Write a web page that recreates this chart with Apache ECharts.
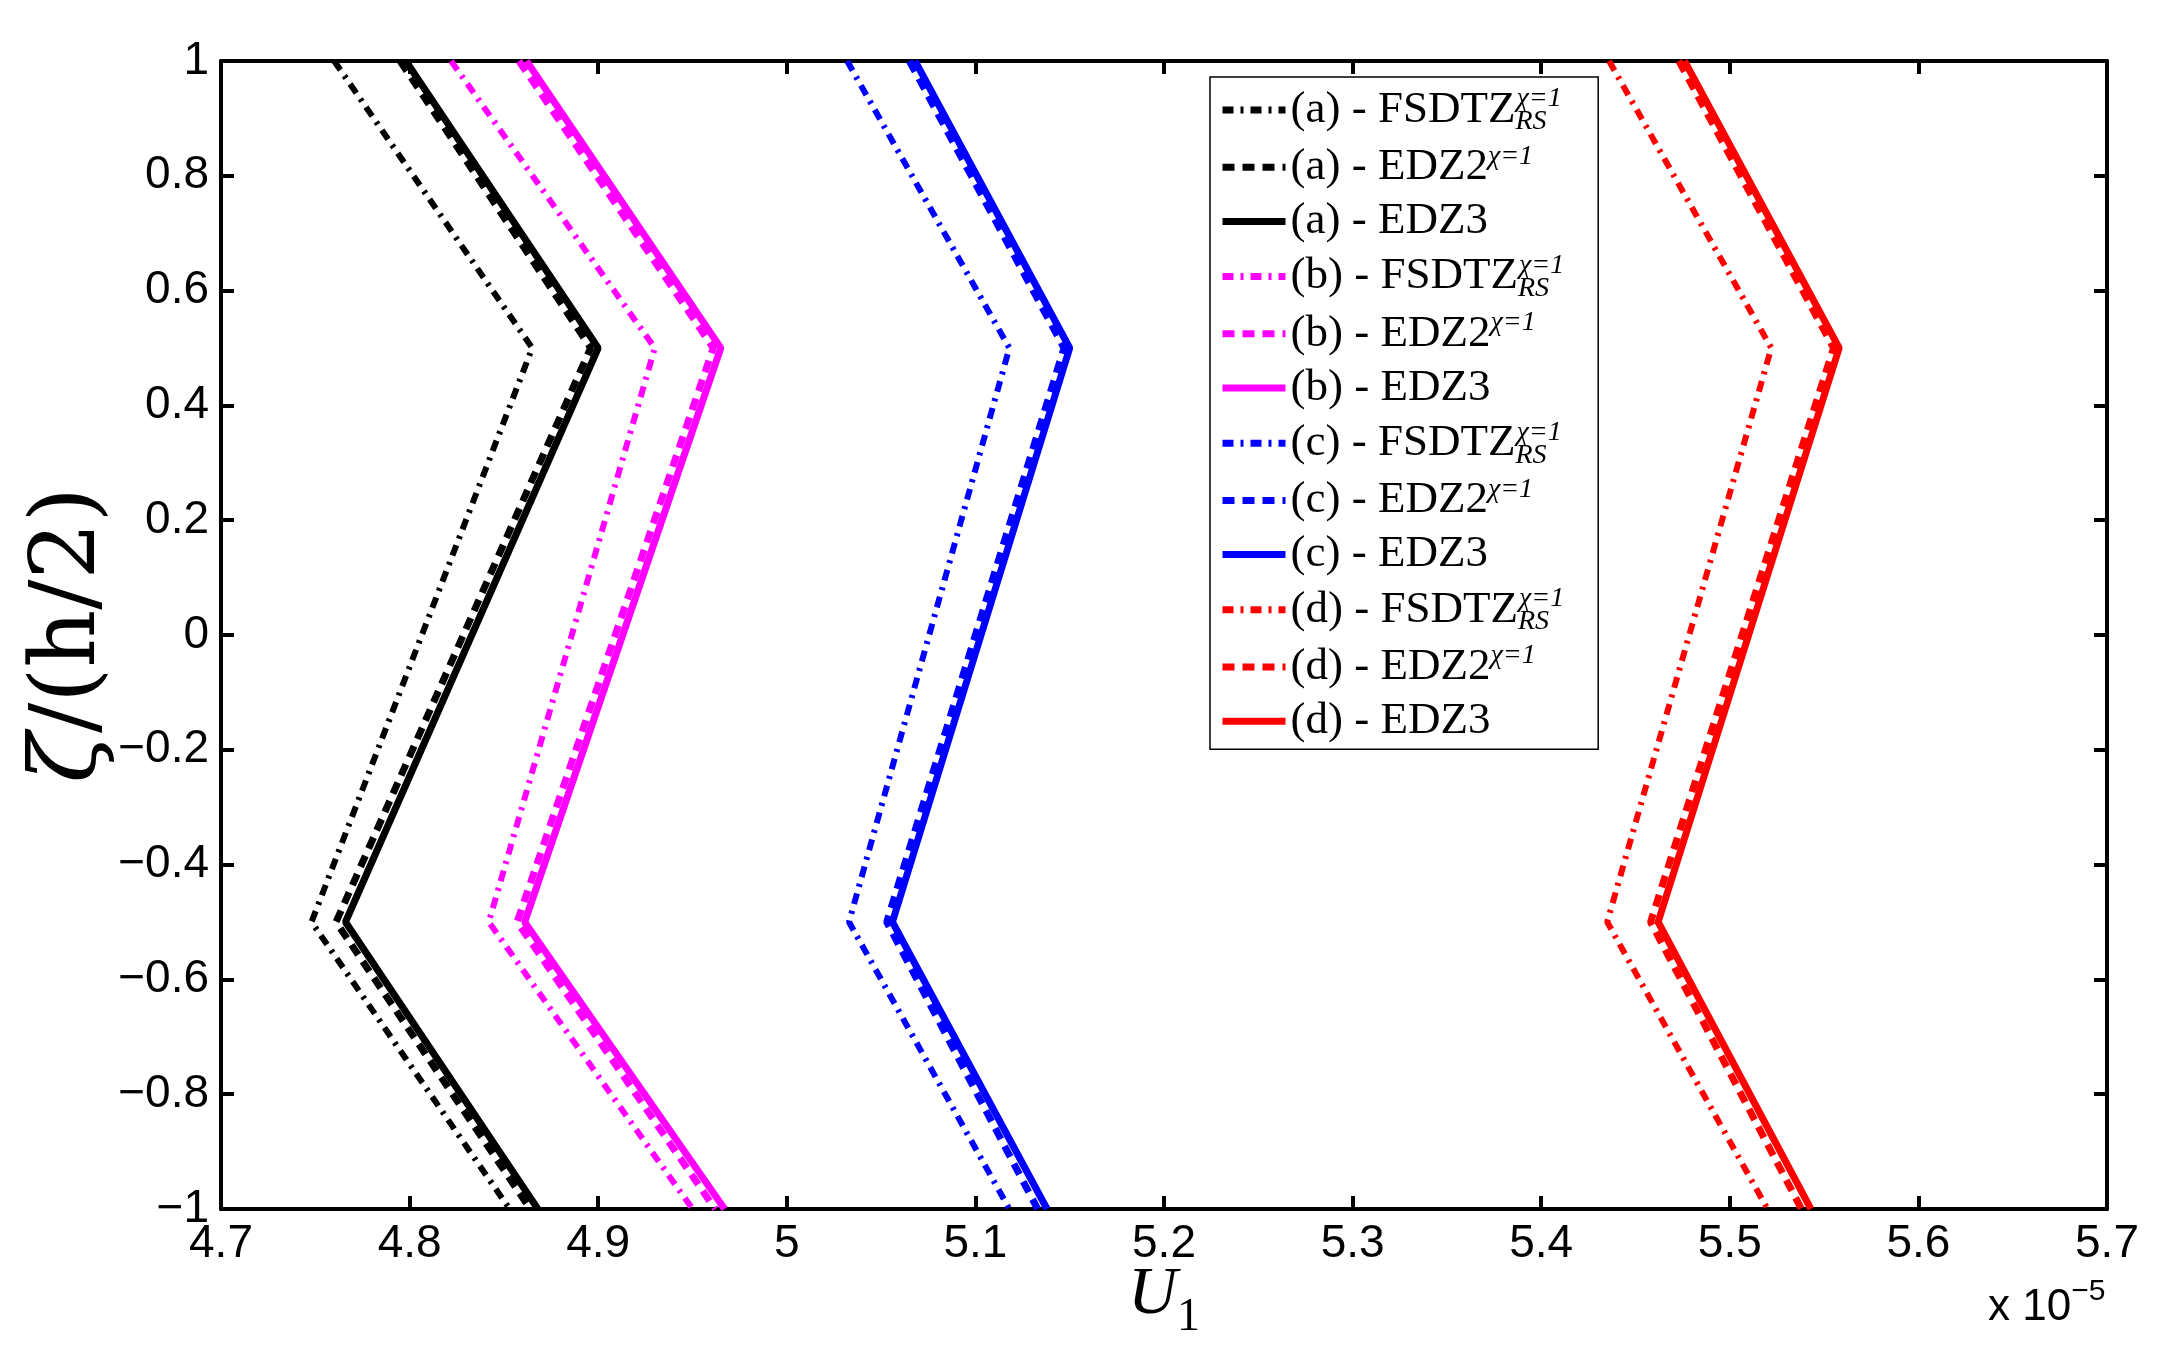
<!DOCTYPE html>
<html>
<head>
<meta charset="utf-8">
<script src="https://cdn.jsdelivr.net/npm/echarts@6/dist/echarts.min.js"></script>
<style>
html,body{margin:0;padding:0;background:#fff;}
#chart{width:2178px;height:1362px;}
</style>
</head>
<body>
<div id="chart"></div>
<script>
// Through-thickness coordinate zeta/(h/2)
const zeta = [1, 0.5, -0.5, -1];
// U1 values (x 10^-5)
const aFSDTZ = [4.760, 4.865, 4.748, 4.853];
const aEDZ2  = [4.795, 4.896, 4.761, 4.864];
const aEDZ3  = [4.798, 4.900, 4.766, 4.868];
const bFSDTZ = [4.822, 4.930, 4.842, 4.950];
const bEDZ2  = [4.858, 4.961, 4.857, 4.962];
const bEDZ3  = [4.862, 4.965, 4.861, 4.967];
const cFSDTZ = [5.032, 5.118, 5.033, 5.118];
const cEDZ2  = [5.065, 5.147, 5.053, 5.133];
const cEDZ3  = [5.068, 5.150, 5.056, 5.138];
const dFSDTZ = [5.436, 5.522, 5.435, 5.520];
const dEDZ2  = [5.473, 5.555, 5.458, 5.538];
const dEDZ3  = [5.476, 5.558, 5.462, 5.543];
const xTicks = [4.7, 4.8, 4.9, 5.0, 5.1, 5.2, 5.3, 5.4, 5.5, 5.6, 5.7];

const cases = [
  {tag: '(a)', color: '#000000', sets: [aFSDTZ, aEDZ2, aEDZ3]},
  {tag: '(b)', color: '#ff00ff', sets: [bFSDTZ, bEDZ2, bEDZ3]},
  {tag: '(c)', color: '#0000ff', sets: [cFSDTZ, cEDZ2, cEDZ3]},
  {tag: '(d)', color: '#ff0000', sets: [dFSDTZ, dEDZ2, dEDZ3]}
];
const models = ['FSDTZ', 'EDZ2', 'EDZ3'];
const dashes = [[11, 7, 3, 7], [12, 8], 'solid'];
const widths = [6, 7, 7];

const series = [];
cases.forEach(c => {
  c.sets.forEach((vals, k) => {
    series.push({
      name: c.tag + ' - ' + models[k],
      type: 'line',
      symbol: 'none',
      showSymbol: false,
      silent: true,
      data: zeta.map((z, i) => [vals[i], z]),
      lineStyle: {color: c.color, width: widths[k], type: dashes[k], cap: 'butt'},
      itemStyle: {color: c.color}
    });
  });
});

const chart = echarts.init(document.getElementById('chart'), null, {renderer: 'canvas'});
const tickFont = {fontFamily: 'Liberation Sans', fontSize: 46, color: '#000'};
const boxLine = {show: true, onZero: false, lineStyle: {color: '#000', width: 4}};
const tickIn = {show: true, inside: true, length: 13, lineStyle: {color: '#000', width: 4}};

chart.setOption({
  animation: false,
  backgroundColor: '#fff',
  grid: {left: 221, top: 61, right: 71, bottom: 153, containLabel: false},
  xAxis: [{
    type: 'value', min: 4.7, max: 5.7, interval: 0.1, position: 'bottom',
    axisLine: boxLine, axisTick: tickIn, splitLine: {show: false},
    axisLabel: Object.assign({margin: 12, formatter: v => String(+v.toFixed(1))}, tickFont),
    name: '{u|U}{s|1}', nameLocation: 'middle', nameGap: 52, nameMoveOverlap: false,
    nameTextStyle: {rich: {
      u: {fontFamily: 'Liberation Serif', fontStyle: 'italic', fontSize: 68, color: '#000', lineHeight: 80, verticalAlign: 'top'},
      s: {fontFamily: 'Liberation Serif', fontSize: 46, color: '#000', lineHeight: 80, verticalAlign: 'bottom'}
    }}
  }, {
    type: 'value', min: 4.7, max: 5.7, interval: 0.1, position: 'top',
    axisLine: boxLine, axisTick: tickIn, axisLabel: {show: false}, splitLine: {show: false}
  }],
  yAxis: [{
    type: 'value', min: -1, max: 1, interval: 0.2, position: 'left',
    axisLine: boxLine, axisTick: tickIn, splitLine: {show: false},
    axisLabel: Object.assign({margin: 12, formatter: v => String(+v.toFixed(1)).replace('-', '\u2212')}, tickFont),
    name: '{z|\u03B6}{n|/(h/2)}', nameLocation: 'middle', nameRotate: 90, nameGap: 104, nameMoveOverlap: false,
    nameTextStyle: {rich: {
      z: {fontFamily: 'DejaVu Serif', fontStyle: 'italic', fontSize: 92, color: '#000'},
      n: {fontFamily: 'DejaVu Serif', fontSize: 90, color: '#000'}
    }}
  }, {
    type: 'value', min: -1, max: 1, interval: 0.2, position: 'right',
    axisLine: boxLine, axisTick: tickIn, axisLabel: {show: false}, splitLine: {show: false}
  }],
  legend: {
    orient: 'vertical', left: 1210, top: 77,
    padding: [7, 34, 5, 9],
    itemGap: 6.2, itemWidth: 63, itemHeight: 14,
    backgroundColor: '#fff', borderColor: '#000', borderWidth: 1.5,
    selectedMode: false,
    itemStyle: {opacity: 0},
    lineStyle: {width: 7},
    data: series.map(s => s.name),
    formatter: name => {
      if (name.endsWith('FSDTZ')) return '{n|' + name + '}{sub|RS}{sup|\u03C7=1}';
      if (name.endsWith('EDZ2')) return '{n|' + name + '}{sup|\u03C7=1}';
      return '{n|' + name + '}';
    },
    textStyle: {
      fontFamily: 'Liberation Serif', fontSize: 45, color: '#000', lineHeight: 46,
      rich: {
        n: {fontFamily: 'Liberation Serif', fontSize: 45, color: '#000', lineHeight: 46},
        sup: {fontFamily: 'Liberation Serif', fontStyle: 'italic', fontSize: 28, color: '#000', lineHeight: 46, padding: [0, 0, 22, 0]},
        sub: {fontFamily: 'Liberation Serif', fontStyle: 'italic', fontSize: 28, color: '#000', lineHeight: 46, padding: [24, 0, 0, 0], width: 1}
      }
    }
  },
  graphic: [{
    type: 'text', left: 1988, top: 1270, silent: true,
    style: {
      text: '{a|x 10}{b|\u22125}',
      rich: {
        a: {fontFamily: 'Liberation Sans', fontSize: 44, fill: '#000', lineHeight: 56, padding: [16, 0, 0, 0]},
        b: {fontFamily: 'Liberation Sans', fontSize: 30, fill: '#000', lineHeight: 56, padding: [0, 0, 16, 0]}
      }
    }
  }],
  series: series
});
</script>
</body>
</html>
